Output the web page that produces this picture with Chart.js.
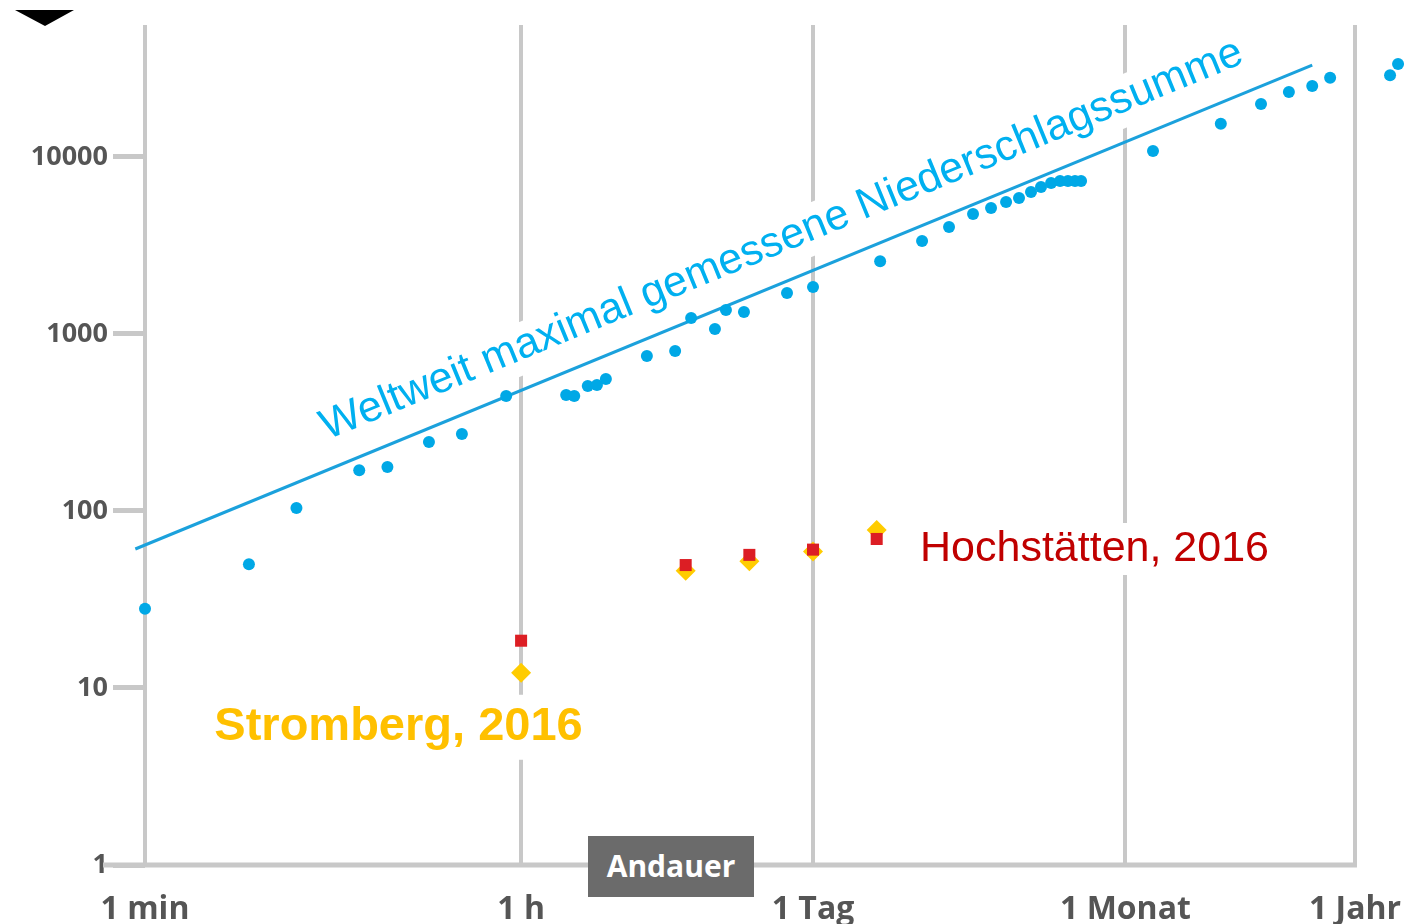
<!DOCTYPE html>
<html>
<head>
<meta charset="utf-8">
<script src="https://cdn.jsdelivr.net/npm/chart.js@4.4.1/dist/chart.umd.min.js"></script>
<style>
  html, body { margin: 0; padding: 0; background: #fff; }
  #wrap { position: relative; width: 1406px; height: 924px; overflow: hidden; }
  #chart { display: block; }
  #marker { position: absolute; left: 15px; top: 10px; width: 0; height: 0;
    border-left: 30px solid transparent; border-right: 29px solid transparent; border-top: 16px solid #000; }
  #andauer { position: absolute; left: 588px; top: 836px; width: 166px; height: 61px;
    background: #6b6b6b; color: #fff; font: bold 30px 'Open Sans', sans-serif;
    line-height: 60px; text-align: center; }
</style>
</head>
<body>
<div id="wrap">
  <canvas id="chart" width="1406" height="924"></canvas>
  <div id="marker"></div>
  <div id="andauer">Andauer</div>
</div>
<script>
// axis ticks (duration in minutes, precipitation in mm)
const xTicks = [1, 60, 1440, 43200, 525600];
const xTickLabels = ['1 min', '1 h', '1 Tag', '1 Monat', '1 Jahr'];
const yTicks = [1, 10, 100, 1000, 10000];

// world record precipitation by duration
const worldDur = [1, 3.1, 5.2, 10.3, 14, 22, 31.5, 51, 98, 107, 124, 137, 151, 236, 321, 382, 495, 558, 679, 1085, 1440,
  2990, 4720, 6330, 8220, 10000, 11780, 13560, 15450, 17230, 19230, 21200, 23100, 24950, 26650,
  58300, 122000, 189000, 256000, 330000, 401000, 770000, 840000];
const worldMax = [28, 50, 104, 170, 177, 245, 272, 446, 452, 446, 508, 515, 557, 751, 801, 1230, 1067, 1367, 1331, 1706, 1844,
  2580, 3350, 4025, 4760, 5150, 5570, 5870, 6340, 6770, 7130, 7320, 7320, 7320, 7320,
  10800, 15400, 19900, 23300, 25200, 28000, 29000, 33500];

// envelope line of the world maximum
const envDur = [0.9, 330000];
const envVal = [61, 33000];

// 2016 events
const eventDur = [60, 360, 720, 1440, 2880];
const stromberg = [12.2, 46, 52, 59, 78];
const hochstaetten = [18.5, 49.5, 56.5, 60.5, 69.5];

function pts(xs, ys) {
  return xs.map((v, i) => ({ x: v, y: ys[i] }));
}

function boxedText(ctx, text, cx, cy, font, color, boxH) {
  ctx.font = font;
  const w = ctx.measureText(text).width;
  ctx.fillStyle = '#fff';
  ctx.fillRect(cx - w / 2 - 6, cy - boxH / 2, w + 12, boxH);
  ctx.fillStyle = color;
  ctx.textAlign = 'center';
  ctx.textBaseline = 'middle';
  ctx.fillText(text, cx, cy);
}

const annotations = {
  id: 'annotations',
  beforeDatasetsDraw(chart) {
    const ctx = chart.ctx;
    const x = chart.scales.x, y = chart.scales.y;
    ctx.save();

    // x axis base line, from the "1" tick to the 1 Jahr line
    const yb = y.getPixelForValue(1);
    ctx.strokeStyle = '#c8c8c8';
    ctx.lineWidth = 5;
    ctx.beginPath();
    ctx.moveTo(y.right - 42, yb);
    ctx.lineTo(x.getPixelForValue(xTicks[xTicks.length - 1]) + 2, yb);
    ctx.stroke();

    // label along the envelope line
    const line = chart.getDatasetMeta(0).data;
    const x0 = line[0].x, y0 = line[0].y, x1 = line[1].x, y1 = line[1].y;
    const ang = Math.atan2(y1 - y0, x1 - x0);
    const px = x.getPixelForValue(8.14);
    const py = y0 + (px - x0) * (y1 - y0) / (x1 - x0);
    const txt = 'Weltweit maximal gemessene Niederschlagssumme';
    ctx.translate(px, py);
    ctx.rotate(ang);
    ctx.font = '43px "Liberation Sans", Arial, sans-serif';
    const tw = ctx.measureText(txt).width;
    ctx.fillStyle = '#fff';
    ctx.fillRect(-4, -28 - 36, tw + 8, 51);
    ctx.fillStyle = '#00b0f0';
    ctx.textAlign = 'left';
    ctx.textBaseline = 'alphabetic';
    ctx.fillText(txt, 0, -28);
    ctx.setTransform(1, 0, 0, 1, 0, 0);

    boxedText(ctx, 'Hochstätten, 2016', x.getPixelForValue(30850), y.getPixelForValue(61),
      '43px "Liberation Sans", Arial, sans-serif', '#c00000', 52);
    boxedText(ctx, 'Stromberg, 2016', x.getPixelForValue(15.8), y.getPixelForValue(6.0),
      'bold 47px "Liberation Sans", Arial, sans-serif', '#ffc000', 65);
    ctx.restore();
  }
};

function noPadding(s) {
  s.paddingLeft = 0;
  s.paddingRight = 0;
  s.paddingTop = 0;
  s.paddingBottom = 0;
}

new Chart(document.getElementById('chart'), {
  type: 'scatter',
  data: {
    datasets: [
      {
        label: 'Weltweit maximal gemessene Niederschlagssumme',
        data: pts(envDur, envVal),
        showLine: true,
        borderColor: '#1ba1dc',
        borderWidth: 3,
        pointRadius: 0,
        clip: false,
        order: 3
      },
      {
        label: 'Hochstätten, 2016',
        data: pts(eventDur, hochstaetten),
        pointStyle: 'rect',
        pointRadius: 8.5,
        backgroundColor: '#dc1e24',
        pointBorderWidth: 0,
        order: 0
      },
      {
        label: 'Stromberg, 2016',
        data: pts(eventDur, stromberg),
        pointStyle: 'rectRot',
        pointRadius: 10,
        backgroundColor: '#ffcc00',
        pointBorderWidth: 0,
        order: 1
      },
      {
        label: 'Weltrekord',
        data: pts(worldDur, worldMax),
        pointRadius: 6,
        backgroundColor: '#00a8e6',
        pointBorderWidth: 0,
        clip: false,
        order: 2
      }
    ]
  },
  options: {
    responsive: false,
    animation: false,
    devicePixelRatio: 1,
    layout: { autoPadding: false, padding: { top: 25, right: 0, left: 0, bottom: 0 } },
    plugins: {
      legend: { display: false },
      tooltip: { enabled: false }
    },
    scales: {
      x: {
        type: 'logarithmic',
        min: 1,
        max: 916000,
        afterBuildTicks: s => { s.ticks = xTicks.map(v => ({ value: v })); },
        afterFit: s => { s.height = 59; noPadding(s); },
        border: { display: false },
        grid: { color: '#c8c8c8', lineWidth: 4, drawTicks: false },
        ticks: {
          autoSkip: false,
          maxRotation: 0,
          padding: 26,
          color: '#555',
          font: { family: 'Open Sans', weight: 'bold', size: 32 },
          callback: v => xTickLabels[xTicks.indexOf(v)]
        }
      },
      y: {
        type: 'logarithmic',
        min: 1,
        max: 55680,
        afterBuildTicks: s => { s.ticks = yTicks.map(v => ({ value: v })); },
        afterFit: s => { s.width = 145; noPadding(s); },
        border: { display: false },
        grid: { drawOnChartArea: false, tickLength: 32, color: '#c8c8c8', lineWidth: 5 },
        ticks: {
          padding: 5,
          color: '#555',
          font: { family: 'Open Sans', weight: 'bold', size: 27 },
          callback: v => String(v)
        }
      }
    }
  },
  plugins: [annotations]
});
</script>
</body>
</html>
